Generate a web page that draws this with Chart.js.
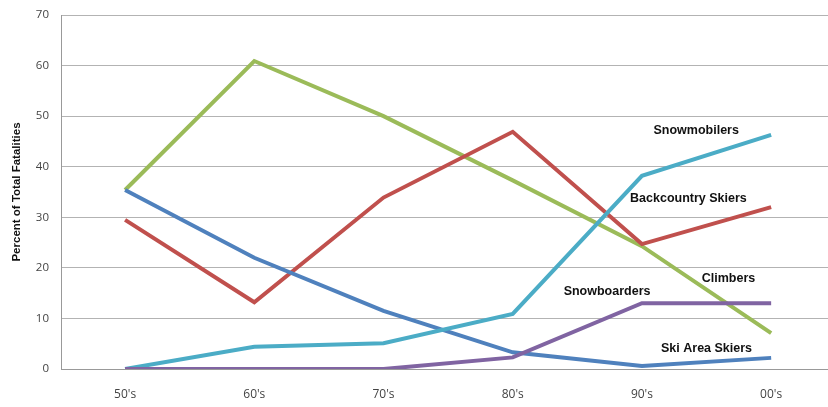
<!DOCTYPE html>
<html>
<head>
<meta charset="utf-8">
<script src="https://cdn.jsdelivr.net/npm/chart.js@4"></script>
<style>
  html, body { margin: 0; padding: 0; background: #fff; }
  #wrap { width: 828px; height: 407px; position: relative; }
</style>
</head>
<body>
<div id="wrap"><canvas id="myLineChart"></canvas></div>
<script>
// decades on the x axis
var decades = ["50's", "60's", "70's", "80's", "90's", "00's"];

// percent of total fatalities, per group
var skiAreaSkiers = [35.4, 22.0, 11.5, 3.3, 0.6, 2.2];
var backcountrySkiers = [29.5, 13.2, 33.9, 46.9, 24.7, 32.0];
var climbers = [35.4, 60.9, 50.0, 37.3, 24.3, 7.1];
var snowmobilers = [0, 4.4, 5.1, 10.9, 38.2, 46.3];
var snowboarders = [0, 0, 0, 2.3, 13.0, 13.0];

var yTicks = [0, 10, 20, 30, 40, 50, 60, 70];

// text labels next to the lines (decade index, percent)
var noteNames = ['Snowmobilers', 'Backcountry Skiers', 'Climbers', 'Snowboarders', 'Ski Area Skiers'];
var noteX = [4.42, 4.36, 4.67, 3.73, 4.50];
var noteY = [47.1, 33.8, 17.8, 15.4, 4.0];

function toPoints(values) {
    return values.map(function (v, i) { return { x: i, y: v }; });
}

var notesPlugin = {
    id: 'notes',
    afterDatasetsDraw: function (chart) {
        var ctx = chart.ctx;
        var xs = chart.scales.x, ys = chart.scales.y;
        ctx.save();
        ctx.font = 'bold 12.5px "Liberation Sans", Arial, sans-serif';
        ctx.fillStyle = '#111';
        ctx.textAlign = 'center';
        ctx.textBaseline = 'middle';
        noteNames.forEach(function (name, i) {
            ctx.fillText(name, xs.getPixelForValue(noteX[i]), ys.getPixelForValue(noteY[i]));
        });
        ctx.restore();
    }
};

function createLineChart() {
    var ctx = document.getElementById('myLineChart').getContext('2d');
    var line = { borderWidth: 4, pointRadius: 0, fill: false, tension: 0 };

    var myLineChart = new Chart(ctx, {
        type: 'line',
        data: {
            datasets: [
                Object.assign({ label: 'Snowboarders', data: toPoints(snowboarders), borderColor: '#8064a2' }, line),
                Object.assign({ label: 'Snowmobilers', data: toPoints(snowmobilers), borderColor: '#4bacc6' }, line),
                Object.assign({ label: 'Ski Area Skiers', data: toPoints(skiAreaSkiers), borderColor: '#4f81bd' }, line),
                Object.assign({ label: 'Backcountry Skiers', data: toPoints(backcountrySkiers), borderColor: '#c0504d' }, line),
                Object.assign({ label: 'Climbers', data: toPoints(climbers), borderColor: '#9bbb59' }, line),
            ],
        },
        options: {
            responsive: true,
            maintainAspectRatio: false,
            animation: false,
            layout: { padding: { top: 15, right: 0, bottom: 0, left: 0 } },
            plugins: {
                legend: { display: false },
                tooltip: { enabled: false },
            },
            scales: {
                x: {
                    type: 'linear',
                    min: -0.496,
                    max: 5.44,
                    grid: { display: false },
                    border: { display: true, color: '#999', width: 1 },
                    ticks: {
                        stepSize: 1,
                        includeBounds: false,
                        autoSkip: false,
                        maxRotation: 0,
                        padding: 10,
                        color: '#444',
                        font: { family: '"Open Sans", sans-serif', size: 12 },
                        callback: function (v) {
                            return Number.isInteger(v) ? decades[v] : '';
                        },
                    },
                    afterFit: function (scale) { scale.height = 38; },
                },
                y: {
                    min: 0,
                    max: 70,
                    afterBuildTicks: function (scale) {
                        scale.ticks = yTicks.map(function (v) { return { value: v }; });
                    },
                    grid: { color: '#b3b3b3', lineWidth: 1, drawTicks: false },
                    border: { display: true, color: '#999', width: 1 },
                    ticks: {
                        padding: 12,
                        color: '#444',
                        font: { family: '"Open Sans", sans-serif', size: 11.5 },
                    },
                    title: {
                        display: true,
                        text: 'Percent of Total Fatalities',
                        color: '#111',
                        padding: { top: 10, bottom: 2 },
                        font: { family: '"Liberation Sans", Arial, sans-serif', size: 11.5, weight: 'bold' },
                    },
                    afterFit: function (scale) {
                        scale.width = 61;
                        scale.paddingTop = 0;
                        scale.paddingBottom = 0;
                    },
                },
            },
        },
        plugins: [notesPlugin],
    });
    return myLineChart;
}

createLineChart();
</script>
</body>
</html>
